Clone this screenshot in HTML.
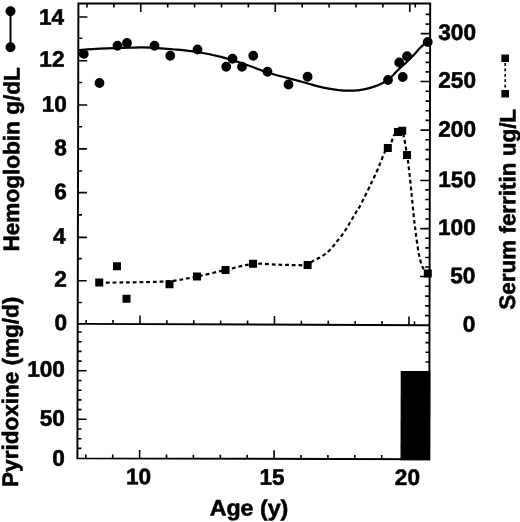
<!DOCTYPE html>
<html><head><meta charset="utf-8"><title>chart</title>
<style>html,body{margin:0;padding:0;background:#fff}svg{display:block}text{font-family:"Liberation Sans",sans-serif;font-weight:bold;fill:#000;stroke:#000;stroke-width:0.55px;stroke-linejoin:round}svg{filter:grayscale(1) blur(0.45px)}</style></head><body>
<svg width="520" height="522" viewBox="0 0 520 522">
<rect width="520" height="522" fill="#fff"/>
<g transform="rotate(0.15 253.5 231)">
<g stroke="#000" stroke-width="1.95" fill="none" stroke-linecap="butt">
<path d="M77.80,3.86 L429.60,2.99 L429.80,458.74 L78.00,458.86 Z" stroke-linejoin="miter"/>
<line x1="77.94" y1="324.31" x2="429.85" y2="324.74"/>
</g><g stroke="#000" stroke-width="1.6" fill="none">
<line x1="77.93" y1="302.95" x2="81.93" y2="302.95"/>
<line x1="77.92" y1="281.15" x2="86.92" y2="281.15"/>
<line x1="77.91" y1="259.05" x2="81.91" y2="259.05"/>
<line x1="77.90" y1="237.85" x2="86.90" y2="237.85"/>
<line x1="77.89" y1="215.35" x2="81.89" y2="215.35"/>
<line x1="77.88" y1="193.05" x2="86.88" y2="193.05"/>
<line x1="77.88" y1="171.45" x2="81.88" y2="171.45"/>
<line x1="77.87" y1="149.35" x2="86.87" y2="149.35"/>
<line x1="77.86" y1="127.15" x2="81.86" y2="127.15"/>
<line x1="77.85" y1="105.45" x2="86.85" y2="105.45"/>
<line x1="77.84" y1="82.95" x2="81.84" y2="82.95"/>
<line x1="77.83" y1="61.15" x2="86.83" y2="61.15"/>
<line x1="77.82" y1="38.65" x2="81.82" y2="38.65"/>
<line x1="77.81" y1="17.45" x2="86.81" y2="17.45"/>
<line x1="429.74" y1="315.15" x2="425.24" y2="315.15"/>
<line x1="429.73" y1="305.45" x2="425.23" y2="305.45"/>
<line x1="429.73" y1="295.65" x2="425.23" y2="295.65"/>
<line x1="429.72" y1="285.85" x2="425.22" y2="285.85"/>
<line x1="429.72" y1="276.05" x2="420.22" y2="276.05"/>
<line x1="429.72" y1="266.55" x2="425.22" y2="266.55"/>
<line x1="429.71" y1="257.05" x2="425.21" y2="257.05"/>
<line x1="429.71" y1="247.45" x2="425.21" y2="247.45"/>
<line x1="429.70" y1="237.75" x2="425.20" y2="237.75"/>
<line x1="429.70" y1="228.15" x2="420.20" y2="228.15"/>
<line x1="429.70" y1="218.55" x2="425.20" y2="218.55"/>
<line x1="429.69" y1="208.85" x2="425.19" y2="208.85"/>
<line x1="429.69" y1="199.05" x2="425.19" y2="199.05"/>
<line x1="429.68" y1="189.45" x2="425.18" y2="189.45"/>
<line x1="429.68" y1="180.05" x2="420.18" y2="180.05"/>
<line x1="429.67" y1="170.45" x2="425.17" y2="170.45"/>
<line x1="429.67" y1="158.95" x2="425.17" y2="158.95"/>
<line x1="429.67" y1="149.15" x2="425.17" y2="149.15"/>
<line x1="429.66" y1="139.35" x2="425.16" y2="139.35"/>
<line x1="429.66" y1="129.65" x2="420.16" y2="129.65"/>
<line x1="429.65" y1="119.95" x2="425.15" y2="119.95"/>
<line x1="429.65" y1="110.35" x2="425.15" y2="110.35"/>
<line x1="429.65" y1="100.65" x2="425.15" y2="100.65"/>
<line x1="429.64" y1="90.75" x2="425.14" y2="90.75"/>
<line x1="429.64" y1="81.05" x2="420.14" y2="81.05"/>
<line x1="429.63" y1="71.45" x2="425.13" y2="71.45"/>
<line x1="429.63" y1="61.95" x2="425.13" y2="61.95"/>
<line x1="429.62" y1="52.55" x2="425.12" y2="52.55"/>
<line x1="429.62" y1="43.15" x2="425.12" y2="43.15"/>
<line x1="429.62" y1="33.15" x2="420.12" y2="33.15"/>
<line x1="429.61" y1="23.65" x2="425.11" y2="23.65"/>
<line x1="429.61" y1="13.95" x2="425.11" y2="13.95"/>
<line x1="77.94" y1="332.45" x2="81.94" y2="332.45"/>
<line x1="429.74" y1="332.45" x2="425.74" y2="332.45"/>
<line x1="77.95" y1="342.15" x2="81.95" y2="342.15"/>
<line x1="429.75" y1="342.15" x2="425.75" y2="342.15"/>
<line x1="77.95" y1="351.85" x2="81.95" y2="351.85"/>
<line x1="429.75" y1="351.85" x2="425.75" y2="351.85"/>
<line x1="77.96" y1="361.55" x2="81.96" y2="361.55"/>
<line x1="429.76" y1="361.55" x2="425.76" y2="361.55"/>
<line x1="77.96" y1="371.25" x2="86.96" y2="371.25"/>
<line x1="429.76" y1="371.25" x2="420.76" y2="371.25"/>
<line x1="77.96" y1="380.95" x2="81.96" y2="380.95"/>
<line x1="429.76" y1="380.95" x2="425.76" y2="380.95"/>
<line x1="77.97" y1="390.65" x2="81.97" y2="390.65"/>
<line x1="429.77" y1="390.65" x2="425.77" y2="390.65"/>
<line x1="77.97" y1="400.35" x2="81.97" y2="400.35"/>
<line x1="429.77" y1="400.35" x2="425.77" y2="400.35"/>
<line x1="77.98" y1="410.05" x2="81.98" y2="410.05"/>
<line x1="429.78" y1="410.05" x2="425.78" y2="410.05"/>
<line x1="77.98" y1="419.75" x2="86.98" y2="419.75"/>
<line x1="429.78" y1="419.75" x2="420.78" y2="419.75"/>
<line x1="77.98" y1="429.45" x2="81.98" y2="429.45"/>
<line x1="429.78" y1="429.45" x2="425.78" y2="429.45"/>
<line x1="77.99" y1="439.15" x2="81.99" y2="439.15"/>
<line x1="429.79" y1="439.15" x2="425.79" y2="439.15"/>
<line x1="77.99" y1="448.85" x2="81.99" y2="448.85"/>
<line x1="429.79" y1="448.85" x2="425.79" y2="448.85"/>
<line x1="86.40" y1="3.84" x2="86.40" y2="7.84"/>
<line x1="86.40" y1="324.32" x2="86.40" y2="320.32"/>
<line x1="86.40" y1="458.86" x2="86.40" y2="454.86"/>
<line x1="113.30" y1="3.77" x2="113.30" y2="7.77"/>
<line x1="113.30" y1="324.35" x2="113.30" y2="320.35"/>
<line x1="113.30" y1="458.85" x2="113.30" y2="454.85"/>
<line x1="140.20" y1="3.70" x2="140.20" y2="12.20"/>
<line x1="140.20" y1="324.39" x2="140.20" y2="315.89"/>
<line x1="140.20" y1="458.84" x2="140.20" y2="450.34"/>
<line x1="167.10" y1="3.64" x2="167.10" y2="7.64"/>
<line x1="167.10" y1="324.42" x2="167.10" y2="320.42"/>
<line x1="167.10" y1="458.83" x2="167.10" y2="454.83"/>
<line x1="194.00" y1="3.57" x2="194.00" y2="7.57"/>
<line x1="194.00" y1="324.45" x2="194.00" y2="320.45"/>
<line x1="194.00" y1="458.82" x2="194.00" y2="454.82"/>
<line x1="220.90" y1="3.50" x2="220.90" y2="7.50"/>
<line x1="220.90" y1="324.48" x2="220.90" y2="320.48"/>
<line x1="220.90" y1="458.81" x2="220.90" y2="454.81"/>
<line x1="247.80" y1="3.44" x2="247.80" y2="7.44"/>
<line x1="247.80" y1="324.52" x2="247.80" y2="320.52"/>
<line x1="247.80" y1="458.80" x2="247.80" y2="454.80"/>
<line x1="274.70" y1="3.37" x2="274.70" y2="11.87"/>
<line x1="274.70" y1="324.55" x2="274.70" y2="316.05"/>
<line x1="274.70" y1="458.79" x2="274.70" y2="450.29"/>
<line x1="301.60" y1="3.31" x2="301.60" y2="7.31"/>
<line x1="301.60" y1="324.58" x2="301.60" y2="320.58"/>
<line x1="301.60" y1="458.78" x2="301.60" y2="454.78"/>
<line x1="328.50" y1="3.24" x2="328.50" y2="7.24"/>
<line x1="328.50" y1="324.62" x2="328.50" y2="320.62"/>
<line x1="328.50" y1="458.77" x2="328.50" y2="454.77"/>
<line x1="355.40" y1="3.17" x2="355.40" y2="7.17"/>
<line x1="355.40" y1="324.65" x2="355.40" y2="320.65"/>
<line x1="355.40" y1="458.76" x2="355.40" y2="454.76"/>
<line x1="382.30" y1="3.11" x2="382.30" y2="7.11"/>
<line x1="382.30" y1="324.68" x2="382.30" y2="320.68"/>
<line x1="382.30" y1="458.76" x2="382.30" y2="454.76"/>
<line x1="409.20" y1="3.04" x2="409.20" y2="11.54"/>
<line x1="409.20" y1="324.71" x2="409.20" y2="316.21"/>
<line x1="409.20" y1="458.75" x2="409.20" y2="450.25"/>
<line x1="414.70" y1="3.03" x2="414.70" y2="7.03"/>
<line x1="414.70" y1="324.72" x2="414.70" y2="320.72"/>
</g>
<path d="M401.09,370.65 L430.76,370.65 L430.80,459.74 L401.09,459.75 Z" fill="#000"/>
<path d="M77.53,50.56 C81.19,50.30 90.86,49.44 99.52,49.00 C108.19,48.56 121.19,48.11 129.52,47.92 C137.85,47.74 142.02,47.57 149.52,47.87 C157.02,48.17 166.69,48.99 174.53,49.71 C182.36,50.42 189.03,50.98 196.53,52.15 C204.03,53.31 211.54,54.66 219.54,56.69 C227.55,58.72 236.22,61.56 244.56,64.32 C252.90,67.08 261.25,70.68 269.59,73.26 C277.93,75.84 289.60,78.47 294.60,79.79 C299.61,81.11 297.17,80.50 299.61,81.18 C302.04,81.86 306.01,82.98 309.21,83.85 C312.42,84.73 315.62,85.65 318.82,86.43 C322.02,87.20 325.21,87.93 328.43,88.50 C331.65,89.08 334.93,89.55 338.13,89.88 C341.33,90.20 344.43,90.43 347.63,90.45 C350.83,90.48 354.12,90.39 357.33,90.03 C360.55,89.67 363.73,89.09 366.93,88.30 C370.12,87.51 373.95,86.23 376.52,85.28 C379.08,84.32 380.46,83.50 382.31,82.56 C384.16,81.62 385.56,81.29 387.60,79.65 C389.65,78.01 392.38,74.92 394.59,72.73 C396.79,70.54 398.74,68.49 400.82,66.51 C402.90,64.53 404.98,62.84 407.06,60.85 C409.13,58.86 411.21,56.78 413.29,54.58 C415.37,52.38 417.65,49.62 419.52,47.66 C421.39,45.71 423.18,43.96 424.51,42.85 C425.84,41.75 427.00,41.35 427.50,41.04" fill="none" stroke="#000" stroke-width="2.2"/>
<path d="M99.39,283.10 C103.68,283.04 116.68,282.88 125.14,282.74 C133.59,282.60 143.63,282.44 150.13,282.27 C156.63,282.10 159.97,281.98 164.13,281.73 C168.30,281.49 169.63,281.65 175.13,280.81 C180.63,279.96 188.71,278.44 197.12,276.65 C205.53,274.86 216.27,272.18 225.60,270.07 C234.93,267.97 244.01,264.90 253.09,264.00 C262.17,263.10 272.25,264.50 280.09,264.68 C287.92,264.86 295.54,265.02 300.09,265.08 C304.64,265.14 305.11,265.87 307.39,265.06 C309.67,264.25 311.66,261.53 313.78,260.24 C315.89,258.95 318.16,258.40 320.07,257.33 C321.98,256.25 323.63,255.07 325.26,253.81 C326.89,252.56 328.32,251.34 329.85,249.80 C331.38,248.26 333.01,246.33 334.44,244.59 C335.86,242.85 337.08,241.11 338.42,239.38 C339.77,237.64 341.25,235.90 342.51,234.17 C343.77,232.43 344.85,230.78 345.99,228.96 C347.14,227.14 348.24,225.17 349.38,223.25 C350.53,221.33 351.72,219.38 352.86,217.44 C354.01,215.50 355.15,213.42 356.25,211.63 C357.34,209.84 357.07,211.28 359.44,206.72 C361.81,202.17 367.69,190.05 370.48,184.29 C373.26,178.54 374.52,175.83 376.15,172.18 C377.77,168.52 378.88,165.64 380.22,162.37 C381.56,159.10 382.97,154.98 384.20,152.56 C385.42,150.14 386.40,149.67 387.58,147.85 C388.76,146.03 390.42,143.51 391.27,141.64 C392.11,139.77 391.97,138.05 392.65,136.64 C393.33,135.22 394.51,133.96 395.34,133.13 C396.18,132.29 396.56,132.04 397.64,131.62 C398.72,131.20 400.78,129.51 401.84,130.61 C402.89,131.71 403.37,135.69 403.96,138.21 C404.55,140.72 404.92,143.00 405.38,145.70 C405.83,148.40 406.29,151.90 406.70,154.40 C407.11,156.90 407.53,158.80 407.82,160.70 C408.10,162.60 408.12,163.23 408.43,165.79 C408.74,168.36 409.25,172.46 409.66,176.09 C410.07,179.72 410.49,183.74 410.89,187.59 C411.28,191.44 411.62,195.34 412.02,199.18 C412.41,203.03 412.85,206.87 413.25,210.68 C413.64,214.50 413.98,218.68 414.38,222.08 C414.77,225.48 415.14,227.64 415.60,231.08 C416.06,234.51 416.55,238.82 417.13,242.67 C417.71,246.52 418.35,250.72 419.06,254.17 C419.77,257.61 420.61,260.96 421.39,263.36 C422.16,265.76 422.63,266.92 423.70,268.55 C424.77,270.19 427.13,272.38 427.81,273.14" fill="none" stroke="#000" stroke-width="2.2" stroke-dasharray="3.8 2.9"/>
<circle cx="83.29" cy="54.35" r="4.9"/>
<circle cx="99.11" cy="83.40" r="4.9"/>
<circle cx="117.02" cy="46.11" r="4.9"/>
<circle cx="126.51" cy="43.33" r="4.9"/>
<circle cx="154.02" cy="46.01" r="4.9"/>
<circle cx="169.79" cy="55.97" r="4.9"/>
<circle cx="197.03" cy="49.65" r="4.9"/>
<circle cx="225.82" cy="66.82" r="4.9"/>
<circle cx="232.05" cy="58.81" r="4.9"/>
<circle cx="241.57" cy="66.78" r="4.9"/>
<circle cx="252.79" cy="55.75" r="4.9"/>
<circle cx="267.08" cy="71.71" r="4.9"/>
<circle cx="288.12" cy="84.41" r="4.9"/>
<circle cx="307.20" cy="76.61" r="4.9"/>
<circle cx="387.60" cy="79.65" r="4.9"/>
<circle cx="398.81" cy="62.12" r="4.9"/>
<circle cx="402.35" cy="76.61" r="4.9"/>
<circle cx="406.54" cy="55.85" r="4.9"/>
<circle cx="427.25" cy="41.54" r="4.9"/>
<rect x="95.39" y="278.90" width="8" height="8"/>
<rect x="113.09" y="262.61" width="8" height="8"/>
<rect x="122.68" y="295.08" width="8" height="8"/>
<rect x="165.64" y="280.47" width="8" height="8"/>
<rect x="193.12" y="272.65" width="8" height="8"/>
<rect x="221.60" y="266.07" width="8" height="8"/>
<rect x="249.09" y="259.75" width="8" height="8"/>
<rect x="303.69" y="260.86" width="8" height="8"/>
<rect x="383.58" y="143.75" width="8" height="8"/>
<rect x="393.74" y="127.62" width="8" height="8"/>
<rect x="397.94" y="126.31" width="8" height="8"/>
<rect x="402.80" y="150.50" width="8" height="8"/>
<rect x="423.91" y="269.14" width="8" height="8"/>
<line x1="9.93" y1="11.84" x2="10.02" y2="47.84" stroke="#000" stroke-width="2"/>
<circle cx="9.93" cy="11.84" r="5"/><circle cx="10.02" cy="47.84" r="5"/>
<line x1="504.75" y1="57.64" x2="504.84" y2="93.14" stroke="#000" stroke-width="1.7" stroke-dasharray="2.8 2.6" stroke-dashoffset="0.6"/>
<rect x="500.95" y="53.84" width="7.6" height="7.6"/>
<rect x="501.04" y="89.34" width="7.6" height="7.6"/>
<text transform="translate(63.56,25.30) scale(1,1)" font-size="22.6" text-anchor="end">14</text>
<text transform="translate(64.07,67.20) scale(1,1)" font-size="22.6" text-anchor="end">12</text>
<text transform="translate(66.59,112.39) scale(1,1)" font-size="22.6" text-anchor="end">10</text>
<text transform="translate(66.75,155.89) scale(1,1)" font-size="22.6" text-anchor="end">8</text>
<text transform="translate(66.72,199.69) scale(1,1)" font-size="22.6" text-anchor="end">6</text>
<text transform="translate(65.73,244.24) scale(1,1)" font-size="22.6" text-anchor="end">4</text>
<text transform="translate(67.05,287.39) scale(1,1)" font-size="22.6" text-anchor="end">2</text>
<text transform="translate(67.46,330.89) scale(1,1)" font-size="22.6" text-anchor="end">0</text>
<text transform="translate(65.28,377.39) scale(1,1)" font-size="22.6" text-anchor="end">100</text>
<text transform="translate(65.41,426.29) scale(1,1)" font-size="22.6" text-anchor="end">50</text>
<text transform="translate(65.52,466.39) scale(1,1)" font-size="22.6" text-anchor="end">0</text>
<text transform="translate(475.50,39.57) scale(1,1)" font-size="22.6" text-anchor="end">300</text>
<text transform="translate(475.62,87.32) scale(1,1)" font-size="22.6" text-anchor="end">250</text>
<text transform="translate(475.75,136.22) scale(1,1)" font-size="22.6" text-anchor="end">200</text>
<text transform="translate(475.88,186.62) scale(1,1)" font-size="22.6" text-anchor="end">150</text>
<text transform="translate(475.71,234.52) scale(1,1)" font-size="22.6" text-anchor="end">100</text>
<text transform="translate(475.54,282.62) scale(1,1)" font-size="22.6" text-anchor="end">50</text>
<text transform="translate(475.66,331.12) scale(1,1)" font-size="22.6" text-anchor="end">0</text>
<text transform="translate(139.16,484.50) scale(1,1)" font-size="22.6" text-anchor="middle">10</text>
<text transform="translate(272.76,484.75) scale(1,1)" font-size="22.6" text-anchor="middle">15</text>
<text transform="translate(408.06,484.60) scale(1,1)" font-size="22.6" text-anchor="middle">20</text>
<text transform="translate(249.75,515.61) scale(1.032,1)" font-size="22.5" text-anchor="middle">Age (y)</text>
<text transform="translate(19.05,252.11) rotate(-90) scale(1.00356,1)" font-size="22.5" text-anchor="start">Hemoglobin g/dL</text>
<text transform="translate(18.57,487.52) rotate(-90) scale(1.00089,1)" font-size="22.5" text-anchor="start">Pyridoxine (mg/d)</text>
<text transform="translate(515.21,308.97) rotate(-90) scale(0.997333,1)" font-size="22.5" text-anchor="start">Serum ferritin ug/L</text>
</g></svg></body></html>
